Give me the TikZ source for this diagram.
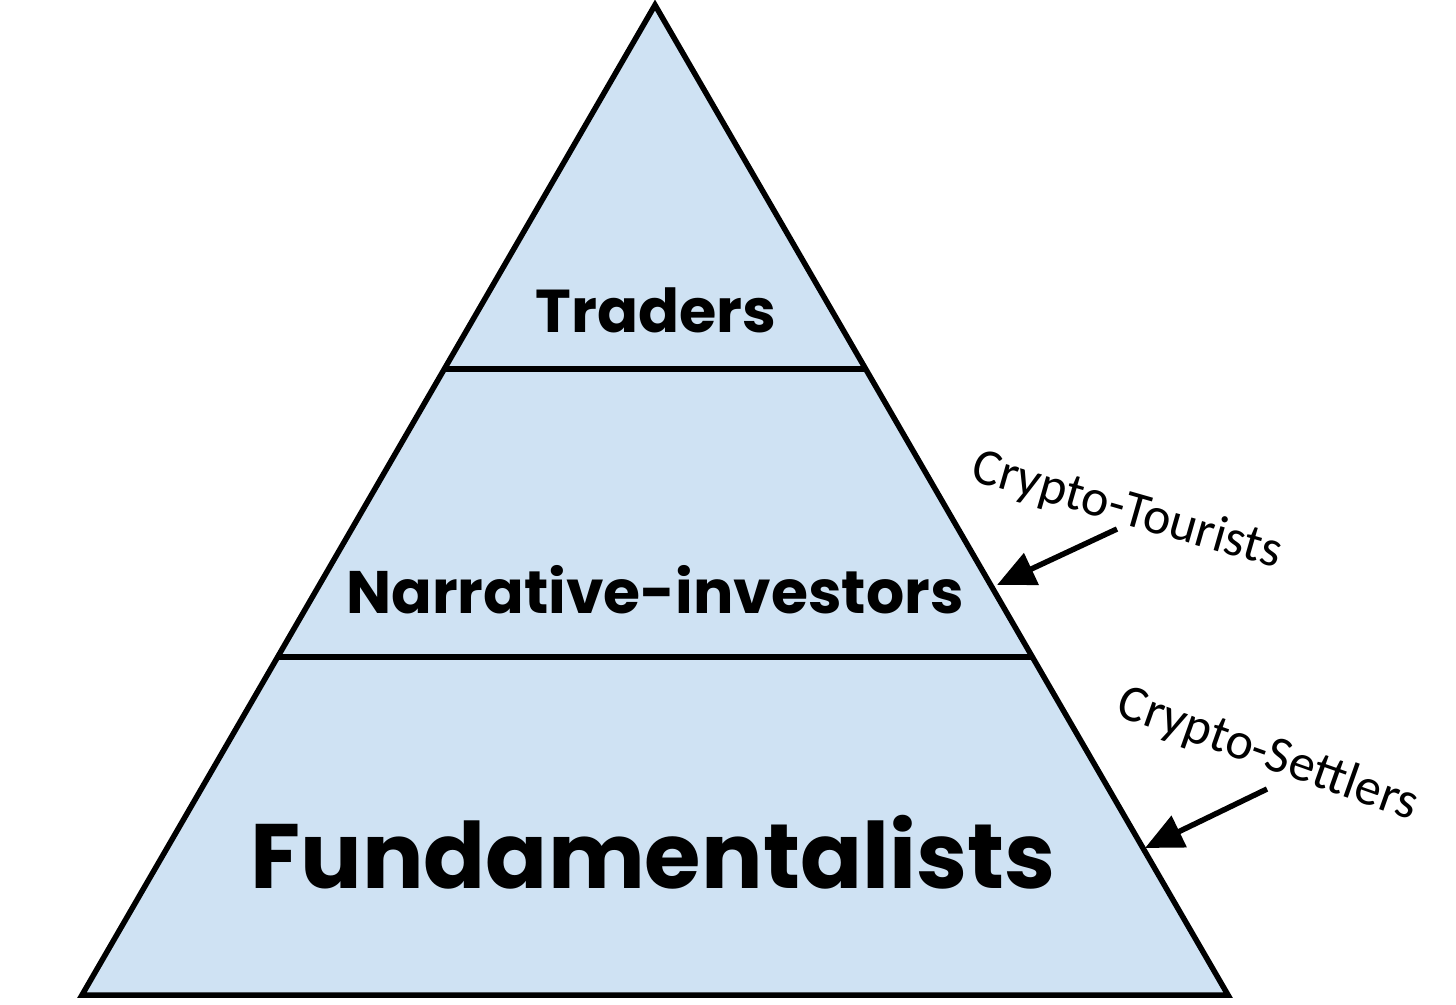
\documentclass[tikz,border=0pt]{standalone}
\usepackage{fontspec}
\usetikzlibrary{arrows.meta}
\newfontfamily\popfont{Poppins}
\newfontfamily\calfont{Carlito}
\definecolor{tierfill}{HTML}{CFE2F3}
\begin{document}
\begin{tikzpicture}[x=1pt,y=-1pt,
  edge/.style={line width=5.5pt,line join=miter},
  tier/.style={font=\popfont\bfseries,text=black,inner sep=0pt,anchor=center},
  tag/.style={font=\calfont\fontsize{52}{56}\selectfont,inner sep=0pt,anchor=center},
  pointer/.style={line width=5.5pt,-{Triangle[length=38pt,width=34pt]}}]
\useasboundingbox (0,0) rectangle (1456,1004);
\coordinate (apex) at (655,5);
\coordinate (bl) at (82,995);
\coordinate (br) at (1228,995);
\filldraw[fill=tierfill,edge] (apex) -- (br) -- (bl) -- cycle;
\draw[edge] (445,369) -- (865,369);
\draw[edge] (278,657) -- (1031,657);
\node[tier,font=\popfont\bfseries\fontsize{60.5}{62}\selectfont] (traders) at (656,310) {Traders};
\node[tier,font=\popfont\bfseries\fontsize{60}{62}\selectfont] (narr) at (655,590) {Narrative-investors};
\node[tier,font=\popfont\bfseries\fontsize{91.5}{94}\selectfont] (fund) at (653,852) {Fundamentalists};
\node[tag,rotate=-16] (tour) at (1127,511) {Crypto-Tourists};
\node[tag,rotate=-19.5] (sett) at (1268,755) {Crypto-Settlers};
\coordinate (tourtail) at (1117,529);
\coordinate (tourtip) at (997,585);
\coordinate (setttail) at (1267,789);
\coordinate (setttip) at (1145,848);
\draw[pointer] (tourtail) -- (tourtip);
\draw[pointer] (setttail) -- (setttip);
\end{tikzpicture}
\end{document}
